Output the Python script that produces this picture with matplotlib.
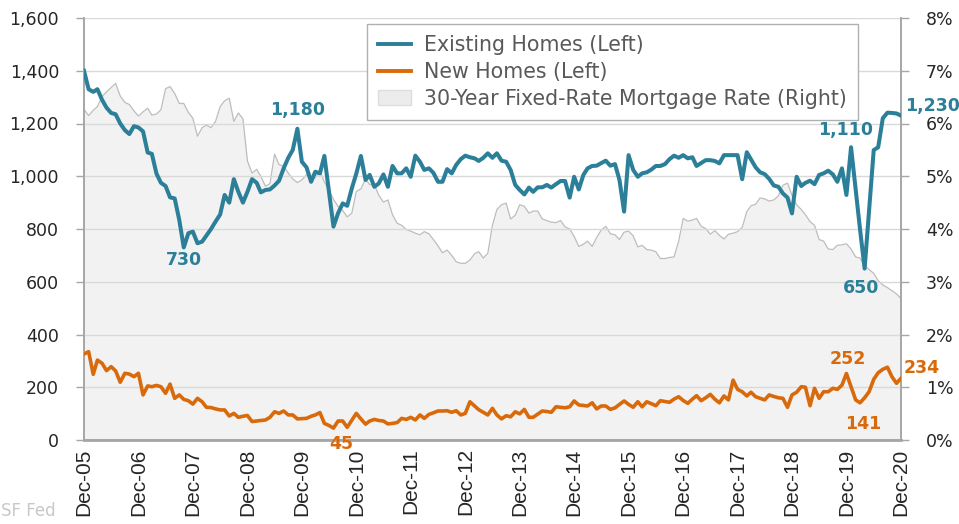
import numpy as np
import pandas as pd
import matplotlib
matplotlib.use("Agg")
import matplotlib.pyplot as plt
import matplotlib.dates as mdates
from matplotlib.ticker import FuncFormatter, MultipleLocator
from matplotlib.patches import Patch
from matplotlib.lines import Line2D

# monthly, Dec-2005 .. Dec-2020
months = pd.date_range("2005-12-01", "2020-12-01", freq="MS")

existing_homes = [
    1400, 1330, 1320, 1330, 1290, 1260, 1240, 1235, 1200, 1175, 1160, 1190,
    1185, 1170, 1090, 1085, 1010, 975, 963, 920, 916, 834, 730, 784,
    790, 746, 752, 775, 800, 828, 855, 929, 900, 989, 941, 900,
    941, 989, 975, 939, 948, 950, 965, 983, 1030, 1070, 1100, 1180,
    1055, 1034, 979, 1017, 1011, 1077, 940, 809, 860, 897, 888, 954,
    1010, 1077, 986, 1005, 960, 973, 1007, 960, 1039, 1011, 1011, 1030,
    998, 1078, 1055, 1024, 1030, 1013, 979, 979, 1027, 1011, 1043, 1065,
    1078, 1072, 1068, 1058, 1070, 1087, 1070, 1087, 1059, 1055, 1024, 967,
    948, 931, 957, 941, 958, 958, 967, 957, 970, 982, 982, 919,
    998, 950, 1005, 1030, 1039, 1040, 1050, 1059, 1040, 1046, 986, 866,
    1080, 1024, 998, 1011, 1015, 1025, 1039, 1039, 1046, 1065, 1078, 1070,
    1080, 1068, 1072, 1039, 1050, 1061, 1061, 1058, 1049, 1080, 1080, 1080,
    1080, 989, 1091, 1064, 1034, 1015, 1008, 990, 965, 960, 935, 919,
    859, 998, 963, 975, 983, 970, 1005, 1011, 1021, 1007, 979, 1030,
    929, 1110, 950, 800, 650, 870, 1099, 1110, 1220, 1241, 1240, 1238, 1230,
]

new_homes = [
    326, 335, 249, 303, 291, 263, 278, 262, 219, 253, 250, 240,
    253, 171, 205, 202, 207, 202, 177, 212, 158, 171, 154, 149,
    136, 158, 145, 124, 123, 118, 114, 114, 91, 101, 86, 90,
    93, 70, 72, 74, 76, 86, 107, 101, 110, 95, 95, 80,
    81, 82, 90, 95, 104, 63, 55, 45, 72, 72, 48, 75,
    101, 80, 60, 72, 78, 74, 72, 61, 63, 66, 82, 78,
    86, 76, 95, 82, 97, 103, 110, 110, 111, 105, 111, 95,
    101, 145, 129, 115, 105, 95, 120, 95, 80, 92, 88, 107,
    99, 116, 86, 86, 98, 110, 108, 105, 126, 124, 122, 126,
    148, 133, 131, 129, 141, 118, 129, 129, 116, 122, 135, 148,
    135, 124, 145, 126, 145, 138, 130, 149, 146, 143, 155, 164,
    150, 139, 155, 168, 149, 160, 173, 155, 141, 167, 152, 227,
    192, 183, 167, 181, 164, 158, 152, 171, 165, 160, 158, 124,
    171, 181, 202, 200, 130, 196, 158, 183, 183, 196, 192, 208,
    252, 202, 152, 141, 160, 183, 230, 255, 268, 276, 240, 215, 234,
]

mortgage_rate = [
    6.27,
    6.15, 6.25, 6.32, 6.51, 6.60, 6.68, 6.76, 6.52, 6.40, 6.36, 6.24, 6.14,
    6.22, 6.29, 6.16, 6.18, 6.26, 6.66, 6.70, 6.57, 6.38, 6.38, 6.21, 6.10,
    5.76, 5.92, 5.97, 5.92, 6.04, 6.32, 6.43, 6.48, 6.04, 6.20, 6.09, 5.29,
    5.06, 5.13, 5.00, 4.81, 4.86, 5.42, 5.22, 5.19, 5.06, 4.95, 4.88, 4.93,
    5.03, 4.99, 4.97, 5.10, 4.89, 4.74, 4.56, 4.43, 4.35, 4.23, 4.30, 4.71,
    4.76, 4.95, 4.84, 4.84, 4.64, 4.51, 4.55, 4.27, 4.11, 4.07, 3.99, 3.96,
    3.92, 3.89, 3.95, 3.91, 3.80, 3.68, 3.55, 3.60, 3.50, 3.38, 3.35, 3.35,
    3.41, 3.53, 3.57, 3.45, 3.54, 4.07, 4.37, 4.46, 4.49, 4.19, 4.26, 4.46,
    4.43, 4.30, 4.34, 4.34, 4.19, 4.16, 4.13, 4.12, 4.16, 4.04, 4.00, 3.86,
    3.67, 3.71, 3.77, 3.67, 3.84, 3.98, 4.05, 3.91, 3.89, 3.80, 3.94, 3.96,
    3.87, 3.66, 3.69, 3.61, 3.60, 3.57, 3.44, 3.44, 3.46, 3.47, 3.77, 4.20,
    4.15, 4.17, 4.20, 4.05, 4.01, 3.90, 3.97, 3.88, 3.81, 3.90, 3.92, 3.95,
    4.03, 4.33, 4.44, 4.47, 4.59, 4.57, 4.53, 4.55, 4.63, 4.83, 4.87, 4.64,
    4.46, 4.37, 4.27, 4.14, 4.07, 3.80, 3.77, 3.62, 3.61, 3.69, 3.70, 3.72,
    3.62, 3.47, 3.45, 3.31, 3.23, 3.16, 3.02, 2.94, 2.89, 2.83, 2.77, 2.68,
]

legend_labels = ["Existing Homes (Left)", "New Homes (Left)",
                 "30-Year Fixed-Rate Mortgage Rate (Right)"]

TEAL = "#2b7f98"
ORANGE = "#d96a0b"
AXIS_GRAY = "#a6a6a6"
TXT = "#262626"

plt.rcParams["font.family"] = ["DejaVu Sans"]

fig = plt.figure(figsize=(9.59, 5.24), dpi=100)
ax = fig.add_axes([84 / 959, 1 - 440 / 524, 817 / 959, 422 / 524])
ax2 = ax.twinx()
ax.set_zorder(ax2.get_zorder() + 1)
ax.patch.set_visible(False)

# mortgage rate: grey area on the right axis
ax2.fill_between(months, mortgage_rate, 0, color="#f2f2f2", lw=0, zorder=1)
ax2.plot(months, mortgage_rate, color="#bdbdbd", lw=0.9, zorder=2)
ax2.set_ylim(0, 8)
ax2.yaxis.set_major_locator(MultipleLocator(1))
ax2.yaxis.set_major_formatter(FuncFormatter(lambda v, p: f"{v:.0f}%"))

ax.plot(months, existing_homes, color=TEAL, lw=2.9, solid_joinstyle="round", zorder=4)
ax.plot(months, new_homes, color=ORANGE, lw=2.6, solid_joinstyle="round", zorder=4)
ax.set_ylim(0, 1600)
ax.yaxis.set_major_locator(MultipleLocator(200))
ax.yaxis.set_major_formatter(FuncFormatter(lambda v, p: f"{v:,.0f}"))
ax.grid(axis="y", color="#d9d9d9", lw=1.0, zorder=0)
ax.set_xlim(months[0], months[-1])

ax.set_xticks(months[::12])
ax.xaxis.set_major_formatter(mdates.DateFormatter("%b-%y"))
for lab in ax.get_xticklabels():
    lab.set_rotation(90)
    lab.set_family("Liberation Sans")
    lab.set_fontsize(15)
    lab.set_color(TXT)
ax.tick_params(axis="x", length=0, pad=6)
ax.tick_params(axis="y", labelsize=12.5, colors=AXIS_GRAY, labelcolor=TXT,
               length=6, width=1, pad=12)
ax2.tick_params(axis="y", labelsize=12.5, colors=AXIS_GRAY, labelcolor=TXT,
                length=6, width=1, pad=12)

for a in (ax, ax2):
    a.spines["top"].set_visible(False)
    for s in ("left", "right", "bottom"):
        a.spines[s].set_color(AXIS_GRAY)
        a.spines[s].set_linewidth(1.2)
ax.spines["bottom"].set_linewidth(2.0)

# value labels
def label(series, i, txt, color, dx, dy, ha="center", va="bottom"):
    ax.annotate(txt, xy=(months[i], series[i]), xytext=(dx, dy),
                textcoords="offset pixels", ha=ha, va=va, color=color,
                fontsize=12.5, fontweight="bold", zorder=6)

ex = existing_homes
nw = new_homes
label(ex, int(np.argmin(ex[:60])), "730", TEAL, 0, -4, va="top")
label(ex, 24 + int(np.argmax(ex[24:60])), "1,180", TEAL, 0, 10)
label(ex, 169, "1,110", TEAL, -5, 8)
label(ex, int(np.argmin(ex)), "650", TEAL, -4, -10, va="top")
label(ex, len(ex) - 1, "1,230", TEAL, 4, 10, ha="left", va="center")
label(nw, int(np.argmin(nw)), "45", ORANGE, 8, -7, va="top")
label(nw, 168, "252", ORANGE, 1, 6)
label(nw, 171, "141", ORANGE, 3, -12, va="top")
label(nw, len(nw) - 1, "234", ORANGE, 3, 10, ha="left", va="center")

handles = [Line2D([], [], color=TEAL, lw=2.8),
           Line2D([], [], color=ORANGE, lw=2.8),
           Patch(facecolor="#ececec", edgecolor="#dddddd")]
leg = ax.legend(handles, legend_labels, loc="upper left",
                bbox_to_anchor=((367 - 84) / 817, (440 - 24) / 422),
                borderaxespad=0, fontsize=14.8, labelcolor="#595959",
                frameon=True, fancybox=False, edgecolor="#b0b0b0",
                framealpha=1, borderpad=0.55, labelspacing=0.33,
                handlelength=1.6, handletextpad=0.6)
leg.get_frame().set_linewidth(1.0)
leg.set_zorder(7)

fig.text(1 / 959, 1 - 511 / 524, "SF Fed", color="#c8c8c8", fontsize=12,
         ha="left", va="center")

fig.savefig("out.png", dpi=100)
